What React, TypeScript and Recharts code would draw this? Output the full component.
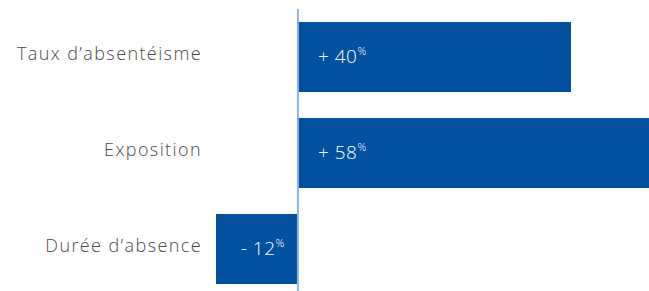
import { BarChart, Bar, XAxis, YAxis, ReferenceLine, LabelList } from "recharts";

const categories = ["Taux d’absentéisme", "Exposition", "Durée d’absence"];
const values = [40, 58, -12];

const data = categories.map((name, i) => ({ name, value: values[i] }));

const BLUE = "#0250A0";
const FONT = "'Open Sans', 'Noto Sans', sans-serif";

function ValueLabel(props: any) {
  const { x, y, width, height, value } = props;
  const neg = value < 0;
  const left = Math.min(x, x + width);
  const right = Math.max(x, x + width);
  const cy = y + height / 2;
  const sign = neg ? "-" : "+";
  return (
    <text
      x={neg ? right - 13 : left + 20}
      y={cy}
      dy={6}
      fill="#fff"
      fontFamily={FONT}
      fontWeight={300}
      fontSize={19}
      letterSpacing={0.5}
      textAnchor={neg ? "end" : "start"}
    >
      {`${sign} ${Math.abs(value)}`}
      <tspan fontSize={11} dy={-8}>%</tspan>
    </text>
  );
}

function LineShape(props: any) {
  const { x1, x2, y1, y2 } = props;
  return <line x1={x1} x2={x2} y1={y1 + 2} y2={y2} stroke="#8DB5E6" strokeWidth={2} />;
}

export default function App() {
  return (
    <div style={{ position: "absolute", left: 0, top: 0, width: 649, height: 291, overflow: "hidden", background: "#fff" }}>
      <BarChart
        width={649}
        height={297}
        data={data}
        layout="vertical"
        margin={{ top: 9, right: 0, bottom: 0, left: 0 }}
        barCategoryGap={13}
      >
        <XAxis type="number" domain={[-12, 51.43]} allowDataOverflow hide />
        <YAxis
          type="category"
          dataKey="name"
          width={216}
          axisLine={false}
          tickLine={false}
          tickMargin={8}
          tick={{ fill: "#4a4a4a", fontSize: 18, fontFamily: FONT, fontWeight: 300, letterSpacing: 1.4, dy: -3 }}
        />
        <Bar dataKey="value" fill={BLUE} isAnimationActive={false}>
          <LabelList dataKey="value" content={<ValueLabel />} />
        </Bar>
        <ReferenceLine x={0} shape={<LineShape />} />
      </BarChart>
    </div>
  );
}
